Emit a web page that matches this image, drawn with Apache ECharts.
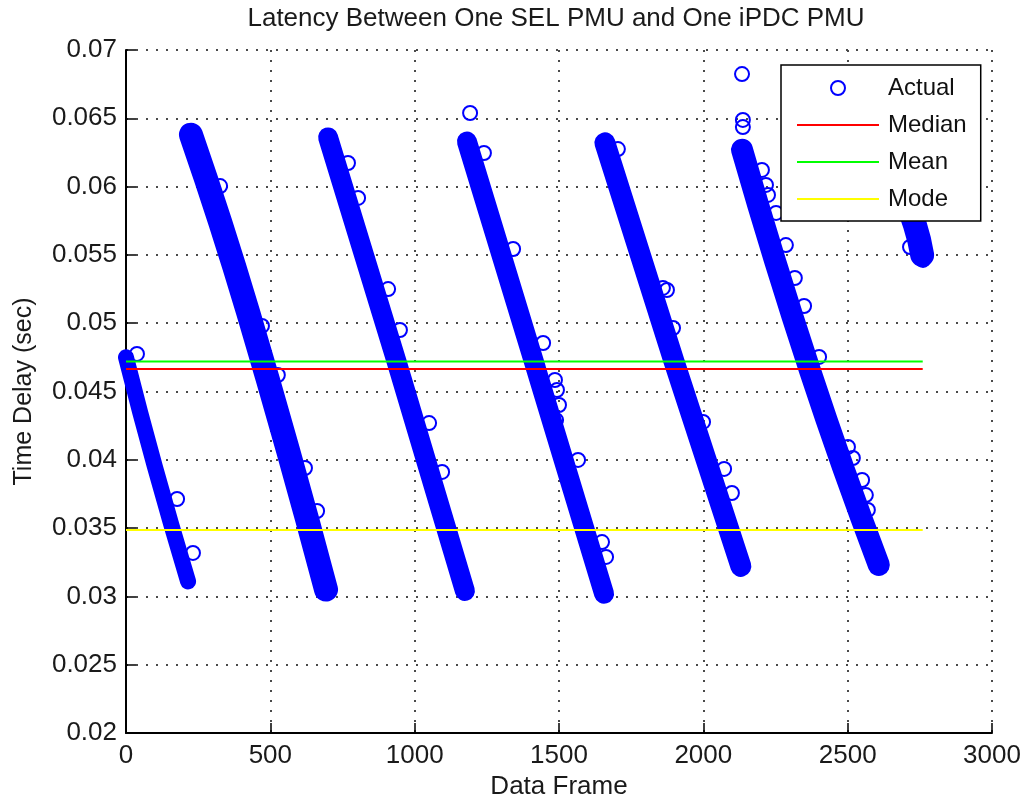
<!DOCTYPE html>
<html>
<head>
<meta charset="utf-8">
<script src="https://cdn.jsdelivr.net/npm/echarts@6/dist/echarts.min.js"></script>
<style>
html,body{margin:0;padding:0;background:#fff;}
#chart{width:1025px;height:805px;}
</style>
</head>
<body>
<div id="chart"></div>
<script>
// ---- Data ----
// Dense bands of "Actual" samples: centre line of each sawtooth segment [frame, delay]
const band1 = [[0,0.0475],[100,0.0395],[215,0.0311]];
const band2 = [[225,0.0638],[423,0.0508],[693,0.0305]];
const band3 = [[700,0.0636],[940,0.0470],[1174,0.0304]];
const band4 = [[1181,0.0633],[1420,0.0467],[1656,0.0302]];
const band5 = [[1659,0.0632],[1900,0.0471],[2130,0.0322]];
const band6 = [[2134,0.0627],[2370,0.0465],[2608,0.0323]];
const band7 = [[2640,0.0628],[2733,0.0572],[2758,0.0550]];

// Individually visible "Actual" samples [frame, delay]
const actualPoints = [
  [38,0.04775],[177,0.03713],[232,0.03318],
  [326,0.06004],[471,0.04980],[526,0.04621],[620,0.03940],[662,0.03625],
  [769,0.06173],[804,0.05917],[908,0.05250],[949,0.04950],[1050,0.04269],[1095,0.03911],
  [1192,0.06539],[1240,0.06246],[1341,0.05543],[1445,0.04855],[1486,0.04584],[1493,0.04511],
  [1500,0.04401],[1490,0.04291],[1566,0.03999],[1649,0.03398],[1663,0.03289],
  [1704,0.06275],[1860,0.05258],[1874,0.05243],[1895,0.04965],[1999,0.04277],[2072,0.03933],[2099,0.03757],
  [2134,0.06824],[2137,0.06488],[2137,0.06436],[2203,0.06122],[2217,0.06012],[2224,0.05939],
  [2252,0.05807],[2286,0.05572],[2317,0.05331],[2349,0.05126],[2401,0.04753],[2501,0.04094],
  [2518,0.04013],[2550,0.03852],[2563,0.03742],[2570,0.03633],
  [2716,0.05558],[2761,0.05536],[2761,0.05463]
];

// Summary statistics
const statNames = ['Median','Mean','Mode'];
const statValues = [0.04665, 0.04720, 0.03486];
const frameRange = [0, 2760];

// Axis ticks
const xMin = 0, xMax = 3000, xStep = 500;
const yMin = 0.02, yMax = 0.07, yStep = 0.005;

// ---- Chart ----
const FONT = "'Liberation Sans', Arial, Helvetica, sans-serif";
const bands = [band1, band2, band3, band4, band5, band6, band7];
const bandWidths = [16, 24, 20, 20, 21, 22, 24];
const statColors = ['#ff0000', '#00ff00', '#ffff00'];

const series = [];
bands.forEach(function (seg, i) {
  series.push({
    type: 'line',
    name: 'band' + (i + 1),
    data: seg,
    symbol: 'none',
    smooth: true,
    silent: true,
    clip: false,
    z: 2,
    lineStyle: { color: '#0000ff', width: bandWidths[i], cap: 'round', join: 'round' }
  });
});
series.push({
  type: 'scatter',
  name: 'Actual',
  data: actualPoints,
  symbol: 'circle',
  symbolSize: 14,
  clip: false,
  silent: true,
  z: 3,
  itemStyle: { color: 'rgba(0,0,0,0)', borderColor: '#0000ff', borderWidth: 2, opacity: 1 }
});
statNames.forEach(function (n, i) {
  series.push({
    type: 'line',
    name: n,
    data: [[frameRange[0], statValues[i]], [frameRange[1], statValues[i]]],
    symbol: 'none',
    silent: true,
    z: 4,
    lineStyle: { color: statColors[i], width: 2 },
    itemStyle: { color: statColors[i] }
  });
});

const gridLine = { show: true, lineStyle: { color: '#4a4a4a', width: 2, type: [2, 8] } };

const legendData = [{ name: 'Actual' }].concat(statNames.map(function (n) {
  return { name: n, itemStyle: { opacity: 0 } };
}));

const option = {
  animation: false,
  backgroundColor: '#fff',
  title: {
    text: 'Latency Between One SEL PMU and One iPDC PMU',
    left: 556, top: 6, padding: 0, textAlign: 'center',
    textStyle: { fontFamily: FONT, fontSize: 26, fontWeight: 'normal', color: '#1a1a1a' }
  },
  grid: { left: 126, right: 33, top: 50, bottom: 72, containLabel: false, outerBoundsMode: 'none' },
  legend: {
    data: legendData,
    orient: 'vertical',
    left: 781, top: 65,
    padding: [11, 14, 10, 15],
    itemWidth: 82, itemHeight: 14, itemGap: 13,
    backgroundColor: '#fff',
    borderColor: '#000', borderWidth: 1.5, borderRadius: 0,
    z: 10,
    textStyle: { fontFamily: FONT, fontSize: 24, color: '#111', padding: [0, 0, 0, 4] }
  },
  xAxis: {
    type: 'value', min: xMin, max: xMax, interval: xStep,
    name: 'Data Frame', nameLocation: 'middle', nameGap: 40,
    nameTextStyle: { fontFamily: FONT, fontSize: 26, color: '#1a1a1a' },
    axisLine: { show: true, onZero: false, lineStyle: { color: '#000', width: 2 } },
    axisTick: { show: true, inside: true, length: 10, lineStyle: { color: '#000', width: 1.5 } },
    axisLabel: { margin: 10, fontFamily: FONT, fontSize: 26, color: '#1a1a1a', formatter: function (v) { return String(v); } },
    splitLine: gridLine
  },
  yAxis: {
    type: 'value', min: yMin, max: yMax, interval: yStep,
    name: 'Time Delay (sec)', nameLocation: 'middle', nameGap: 89,
    nameTextStyle: { fontFamily: FONT, fontSize: 25, color: '#1a1a1a' },
    axisLine: { show: true, onZero: false, lineStyle: { color: '#000', width: 2 } },
    axisTick: { show: true, inside: true, length: 10, lineStyle: { color: '#000', width: 1.5 } },
    axisLabel: { margin: 9, fontFamily: FONT, fontSize: 26, color: '#1a1a1a',
      formatter: function (v) { return String(parseFloat(v.toFixed(3))); } },
    splitLine: gridLine
  },
  series: series
};

const chart = echarts.init(document.getElementById('chart'), null, { renderer: 'canvas' });
chart.setOption(option);
</script>
</body>
</html>
